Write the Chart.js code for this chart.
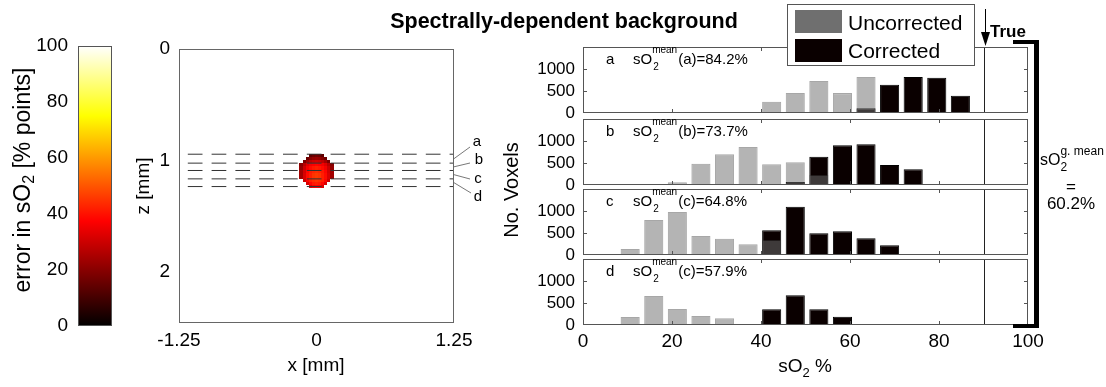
<!DOCTYPE html>
<html>
<head>
<meta charset="utf-8">
<title>Spectrally-dependent background</title>
<script src="https://cdn.jsdelivr.net/npm/chart.js@4.4.1/dist/chart.umd.min.js"></script>
<style>
  body { margin: 0; background: #fff; }
  #fig { position: relative; width: 1106px; height: 387px; overflow: hidden; }
  #fig canvas { position: absolute; left: 0; top: 0; }
</style>
</head>
<body>
<div id="fig">
  <canvas id="cbar" width="1106" height="387"></canvas>
  <canvas id="img" width="1106" height="387"></canvas>
  <canvas id="histA" width="1106" height="387"></canvas>
  <canvas id="histB" width="1106" height="387"></canvas>
  <canvas id="histC" width="1106" height="387"></canvas>
  <canvas id="histD" width="1106" height="387"></canvas>
  <canvas id="overlay" width="1106" height="387"></canvas>
</div>
<script>
var W = 1106, H = 387;
var FONT = "'Liberation Sans', Arial, Helvetica, sans-serif";

// histogram bin centres, sO2 %
var binCenters = [10.6, 15.9, 21.2, 26.5, 31.8, 37.1, 42.4, 47.7, 53.0, 58.3, 63.6, 68.9, 74.2, 79.5, 84.8];

// voxel counts per bin (null = empty)
var uncorrectedA = [null, null, null, null, null, null, 257, 452, 725, 452, 819, null, null, null, null];
var correctedA   = [null, null, null, null, null, null, null, null, null, null, 109, 640, 819, 803, 390];
var uncorrectedB = [null, null, 61, 485, 697, 864, 470, 515, 227, null, null, null, null, null, null];
var correctedB   = [null, null, null, null, null, null, null, 68, 644, 902, 925, 455, 356, null, null];
var uncorrectedC = [136, 796, 978, 432, 371, 243, 341, null, null, null, null, null, null, null, null];
var correctedC   = [null, null, null, null, null, null, 561, 1099, 493, 538, 379, 220, null, null, null];
var uncorrectedD = [182, 660, 364, 205, 152, null, null, null, null, null, null, null, null, null, null];
var correctedD   = [null, null, null, null, null, null, 356, 675, 356, 190, null, null, null, null, null];

var panelLetters = ['a', 'b', 'c', 'd'];
var panelMeans = ['(a)=84.2%', '(b)=73.7%', '(c)=64.8%', '(c)=57.9%'];
var trueSO2 = 90;
var globalMean = '60.2%';

var histXTicks = [0, 20, 40, 60, 80, 100];
var histYTicks = [0, 500, 1000];
var cbarTicks = [0, 20, 40, 60, 80, 100];
var imgXTicks = [-1.25, 0, 1.25];
var imgZTicks = [0, 1, 2];

// slab boundaries in the image [mm]
var sliceDepths = [0.943, 1.023, 1.089, 1.164, 1.233];
var dashStartX = -1.17;

// error map of the absorber (% points), one row per pixel row
var blobCenterX = 0.0, blobCenterZ = 1.095, blobCell = 0.0282;
var blobError = [
  [null, null, null, 14, 16, 17, 16, 14, null, null, null],
  [null, null, 16, 20, 22, 23, 22, 20, 16, null, null],
  [null, 18, 24, 28, 30, 31, 30, 28, 24, 18, null],
  [20, 27, 33, 36, 37, 38, 37, 36, 33, 27, 20],
  [22, 30, 36, 39, 41, 42, 41, 39, 36, 30, 22],
  [24, 31, 38, 41, 43, 44, 43, 41, 38, 31, 24],
  [24, 32, 39, 42, 45, 46, 45, 42, 39, 32, 24],
  [24, 32, 39, 42, 45, 46, 45, 42, 39, 32, 24],
  [null, 30, 38, 42, 44, 45, 44, 42, 38, 30, null],
  [null, null, 32, 38, 41, 42, 41, 38, 32, null, null],
  [null, null, null, 32, 36, 37, 36, 32, null, null, null]
];

Chart.defaults.font.family = FONT;
Chart.defaults.color = '#000';
Chart.defaults.plugins.legend.display = false;
Chart.defaults.plugins.tooltip.enabled = false;

function setFont(ctx, size, bold) {
    ctx.font = (bold ? 'bold ' : '') + size + 'px ' + FONT;
}

function richWidth(ctx, parts) {
    var w = 0;
    parts.forEach(function (p) {
        setFont(ctx, p.size, p.bold);
        w += ctx.measureText(p.t).width;
    });
    return w;
}

function drawRich(ctx, parts, x, y) {
    parts.forEach(function (p) {
        setFont(ctx, p.size, p.bold);
        ctx.fillText(p.t, x, y + (p.dy || 0));
        x += ctx.measureText(p.t).width;
    });
}

function hot(e) {
    var v = e / 100;
    var r = Math.min(1, v / 0.375);
    var g = Math.min(1, Math.max(0, (v - 0.375) / 0.375));
    var b = Math.min(1, Math.max(0, (v - 0.75) / 0.25));
    return 'rgb(' + Math.round(r * 255) + ',' + Math.round(g * 255) + ',' + Math.round(b * 255) + ')';
}

function fixedTicks(list) {
    return function (scale) {
        scale.ticks = list.map(function (v) { return { value: v }; });
    };
}

function fixSize(size) {
    return function (scale) {
        if (scale.isHorizontal()) scale.height = size;
        else scale.width = size;
    };
}

function strokeBox(ctx, a, color) {
    ctx.strokeStyle = color;
    ctx.lineWidth = 1;
    ctx.strokeRect(Math.round(a.left) + 0.5, Math.round(a.top) + 0.5,
        Math.round(a.right - a.left) - 1, Math.round(a.bottom - a.top) - 1);
}

// ---------- colorbar ----------
var cbarPlugin = {
    id: 'cbarFill',
    beforeDatasetsDraw: function (chart) {
        var a = chart.chartArea, ctx = chart.ctx;
        var g = ctx.createLinearGradient(0, a.bottom, 0, a.top);
        g.addColorStop(0, '#000000');
        g.addColorStop(0.375, '#ff0000');
        g.addColorStop(0.75, '#ffff00');
        g.addColorStop(1, '#ffffff');
        ctx.save();
        ctx.fillStyle = g;
        ctx.fillRect(a.left, a.top, a.right - a.left, a.bottom - a.top);
        strokeBox(ctx, a, '#555');
        ctx.restore();
    }
};

new Chart(document.getElementById('cbar'), {
    type: 'scatter',
    data: { datasets: [] },
    options: {
        responsive: false, animation: false, events: [],
        layout: { padding: { left: 0, top: 46, right: W - 112, bottom: H - 326 } },
        scales: {
            x: { display: false, min: 0, max: 1 },
            y: {
                min: 0, max: 100,
                grid: { display: false, drawTicks: false }, border: { display: false },
                afterBuildTicks: fixedTicks(cbarTicks),
                afterFit: fixSize(78),
                ticks: { padding: 10, font: { size: 19 }, callback: function (v) { return String(v); } }
            }
        }
    },
    plugins: [cbarPlugin]
});

// ---------- image panel ----------
var imgPlugin = {
    id: 'imgDecor',
    beforeDatasetsDraw: function (chart) {
        var ctx = chart.ctx, xs = chart.scales.x, ys = chart.scales.y;
        ctx.save();
        blobError.forEach(function (row, j) {
            row.forEach(function (e, i) {
                if (e === null) return;
                var x0 = blobCenterX + (i - 5.5) * blobCell;
                var z0 = blobCenterZ + (j - 5.5) * blobCell;
                var px0 = Math.round(xs.getPixelForValue(x0));
                var px1 = Math.round(xs.getPixelForValue(x0 + blobCell));
                var py0 = Math.round(ys.getPixelForValue(z0));
                var py1 = Math.round(ys.getPixelForValue(z0 + blobCell));
                ctx.fillStyle = hot(e);
                ctx.fillRect(px0, py0, px1 - px0, py1 - py0);
            });
        });
        ctx.restore();
    },
    afterDraw: function (chart) {
        var ctx = chart.ctx, xs = chart.scales.x, ys = chart.scales.y, a = chart.chartArea;
        ctx.save();
        strokeBox(ctx, a, '#666');
        // slab labels with leader lines
        var ends = [[470, 147, 477, 142], [470, 163, 479, 160], [470, 179, 478, 179], [471, 193, 478, 197]];
        ctx.strokeStyle = '#555';
        ctx.lineWidth = 0.8;
        ctx.fillStyle = '#000';
        setFont(ctx, 15);
        ctx.textAlign = 'center';
        ctx.textBaseline = 'middle';
        for (var k = 0; k < 4; k++) {
            var zc = (sliceDepths[k] + sliceDepths[k + 1]) / 2;
            ctx.beginPath();
            ctx.moveTo(xs.getPixelForValue(1.25), ys.getPixelForValue(zc));
            ctx.lineTo(ends[k][0], ends[k][1]);
            ctx.stroke();
            ctx.fillText(panelLetters[k], ends[k][2], ends[k][3]);
        }
        ctx.restore();
    }
};

var sliceSets = sliceDepths.map(function (z) {
    return {
        type: 'line',
        data: [{ x: dashStartX, y: z }, { x: 1.25, y: z }],
        borderColor: '#333',
        borderWidth: 1,
        borderDash: [14.7, 9.1],
        pointRadius: 0,
        fill: false
    };
});

new Chart(document.getElementById('img'), {
    type: 'scatter',
    data: { datasets: sliceSets },
    options: {
        responsive: false, animation: false, events: [],
        layout: { padding: { left: 179 - 60, top: 49, right: W - 454, bottom: H - 323 - 45 } },
        scales: {
            x: {
                type: 'linear', min: -1.25, max: 1.25,
                grid: { display: false, drawTicks: false }, border: { display: false },
                afterBuildTicks: fixedTicks(imgXTicks),
                afterFit: fixSize(45),
                ticks: { padding: 6, font: { size: 19 }, callback: function (v) { return String(v); } }
            },
            y: {
                type: 'linear', min: 0, max: 2.456, reverse: true,
                grid: { display: false, drawTicks: false }, border: { display: false },
                afterBuildTicks: fixedTicks(imgZTicks),
                afterFit: fixSize(60),
                ticks: { padding: 9, font: { size: 19 }, callback: function (v) { return String(v); } }
            }
        }
    },
    plugins: [imgPlugin]
});

// ---------- histograms ----------
var histPlugin = {
    id: 'histFrame',
    afterDatasetsDraw: function (chart, args, opts) {
        var ctx = chart.ctx, a = chart.chartArea, xs = chart.scales.x, ys = chart.scales.y;
        ctx.save();
        // true sO2
        var tx = Math.round(xs.getPixelForValue(trueSO2)) + 0.5;
        ctx.strokeStyle = '#222';
        ctx.lineWidth = 1;
        ctx.beginPath();
        ctx.moveTo(tx, a.top);
        ctx.lineTo(tx, a.bottom);
        ctx.stroke();
        // box and inward ticks
        strokeBox(ctx, a, '#555');
        ctx.beginPath();
        histXTicks.forEach(function (v) {
            if (v <= 0 || v >= 100) return;
            var px = Math.round(xs.getPixelForValue(v)) + 0.5;
            ctx.moveTo(px, a.bottom); ctx.lineTo(px, a.bottom - 4);
            ctx.moveTo(px, a.top); ctx.lineTo(px, a.top + 4);
        });
        histYTicks.forEach(function (v) {
            if (v <= 0) return;
            var py = Math.round(ys.getPixelForValue(v)) + 0.5;
            ctx.moveTo(a.left, py); ctx.lineTo(a.left + 4, py);
            ctx.moveTo(a.right, py); ctx.lineTo(a.right - 4, py);
        });
        ctx.stroke();
        // annotation
        var base = a.top + 17;
        ctx.fillStyle = '#000';
        ctx.textBaseline = 'alphabetic';
        setFont(ctx, 15);
        ctx.fillText(opts.letter, a.left + 23, base);
        var x = a.left + 50;
        ctx.fillText('sO', x, base);
        x += ctx.measureText('sO').width;
        setFont(ctx, 10);
        ctx.fillText('mean', x, base - 11);
        var wSup = ctx.measureText('mean').width;
        ctx.fillText('2', x + 1, base + 6);
        x += wSup + 1;
        setFont(ctx, 15);
        ctx.fillText(opts.mean, x, base);
        ctx.restore();
    }
};

function toPoints(values) {
    return binCenters.map(function (c, i) { return { x: c, y: values[i] }; })
        .filter(function (p) { return p.y !== null; });
}

function makeHist(id, k, unc, cor, top, bottom, showX) {
    var xH = showX ? 30 : 0;
    return new Chart(document.getElementById(id), {
        type: 'bar',
        data: {
            datasets: [{
                label: 'Uncorrected',
                data: toPoints(unc),
                backgroundColor: 'rgba(111,111,111,0.52)',
                borderColor: 'rgba(60,60,60,0.45)',
                borderWidth: 1,
                grouped: false,
                barPercentage: 0.81,
                categoryPercentage: 1
            }, {
                label: 'Corrected',
                data: toPoints(cor),
                backgroundColor: '#0a0000',
                borderColor: '#000',
                borderWidth: 1,
                grouped: false,
                barPercentage: 0.81,
                categoryPercentage: 1
            }]
        },
        options: {
            responsive: false, animation: false, events: [],
            layout: { padding: { left: 583 - 80, top: top, right: W - 1028, bottom: H - bottom - xH } },
            scales: {
                x: {
                    type: 'linear', min: 0, max: 100, offset: false,
                    grid: { display: false, drawTicks: false }, border: { display: false },
                    afterBuildTicks: fixedTicks(histXTicks),
                    afterFit: fixSize(xH),
                    ticks: { display: showX, padding: 5, font: { size: 19 }, callback: function (v) { return String(v); } }
                },
                y: {
                    min: 0, max: 1500,
                    grid: { display: false, drawTicks: false }, border: { display: false },
                    afterBuildTicks: fixedTicks(histYTicks),
                    afterFit: fixSize(80),
                    ticks: { padding: 8, font: { size: 17 }, callback: function (v) { return String(v); } }
                }
            },
            plugins: { histFrame: { letter: panelLetters[k], mean: panelMeans[k] } }
        },
        plugins: [histPlugin]
    });
}

makeHist('histA', 0, uncorrectedA, correctedA, 47, 113, false);
makeHist('histB', 1, uncorrectedB, correctedB, 119, 185, false);
makeHist('histC', 2, uncorrectedC, correctedC, 189, 255, false);
makeHist('histD', 3, uncorrectedD, correctedD, 259, 325, true);

// ---------- free text, legend, bracket ----------
var overlayPlugin = {
    id: 'overlay',
    afterDraw: function (chart) {
        var ctx = chart.ctx;
        ctx.save();
        ctx.fillStyle = '#000';

        // title
        setFont(ctx, 21.5, true);
        ctx.textAlign = 'center';
        ctx.textBaseline = 'alphabetic';
        ctx.fillText('Spectrally-dependent background', 564, 28);

        // axis titles
        ctx.textAlign = 'left';
        ctx.textBaseline = 'middle';
        var parts = [{ t: 'error in sO', size: 23 }, { t: '2', size: 16, dy: 6 }, { t: ' [% points]', size: 23 }];
        ctx.save();
        ctx.translate(24, 180);
        ctx.rotate(-Math.PI / 2);
        drawRich(ctx, parts, -richWidth(ctx, parts) / 2, 0);
        ctx.restore();

        ctx.textAlign = 'center';
        setFont(ctx, 19);
        ctx.save();
        ctx.translate(144, 186);
        ctx.rotate(-Math.PI / 2);
        ctx.fillText('z [mm]', 0, 0);
        ctx.restore();
        ctx.fillText('x [mm]', 316, 366);

        ctx.save();
        ctx.translate(512, 190);
        ctx.rotate(-Math.PI / 2);
        setFont(ctx, 20);
        ctx.fillText('No. Voxels', 0, 0);
        ctx.restore();

        ctx.textAlign = 'left';
        parts = [{ t: 'sO', size: 19 }, { t: '2', size: 13, dy: 6 }, { t: ' %', size: 19 }];
        drawRich(ctx, parts, 805 - richWidth(ctx, parts) / 2, 367);

        // legend
        ctx.fillStyle = '#fff';
        ctx.fillRect(787, 4, 188, 62);
        ctx.strokeStyle = '#555';
        ctx.lineWidth = 1;
        ctx.strokeRect(787.5, 4.5, 187, 61);
        ctx.fillStyle = '#6f6f6f';
        ctx.fillRect(795, 10, 47, 23);
        ctx.fillStyle = '#0a0000';
        ctx.fillRect(795, 39, 47, 23);
        ctx.fillStyle = '#000';
        ctx.textBaseline = 'alphabetic';
        setFont(ctx, 21);
        ctx.fillText('Uncorrected', 848, 30);
        ctx.fillText('Corrected', 848, 58);

        // true value arrow
        ctx.strokeStyle = '#000';
        ctx.beginPath();
        ctx.moveTo(985.5, 9);
        ctx.lineTo(985.5, 38);
        ctx.stroke();
        ctx.beginPath();
        ctx.moveTo(981, 32);
        ctx.lineTo(990, 32);
        ctx.lineTo(985.5, 46);
        ctx.closePath();
        ctx.fill();
        setFont(ctx, 17, true);
        ctx.fillText('True', 990, 37);

        // bracket
        ctx.fillRect(1013, 40, 26, 4);
        ctx.fillRect(1034, 40, 5, 288);
        ctx.fillRect(1013, 324, 26, 4);

        // global mean
        setFont(ctx, 16);
        ctx.fillText('sO', 1040, 165);
        var sx = 1040 + ctx.measureText('sO').width;
        setFont(ctx, 12);
        ctx.fillText('g. mean', sx, 155);
        ctx.fillText('2', sx, 171);
        setFont(ctx, 17);
        ctx.textAlign = 'center';
        ctx.textBaseline = 'middle';
        ctx.fillText('=', 1071, 187);
        ctx.fillText(globalMean, 1071, 204);
        ctx.restore();
    }
};

new Chart(document.getElementById('overlay'), {
    type: 'scatter',
    data: { datasets: [] },
    options: {
        responsive: false, animation: false, events: [],
        scales: { x: { display: false }, y: { display: false } }
    },
    plugins: [overlayPlugin]
});
</script>
</body>
</html>
